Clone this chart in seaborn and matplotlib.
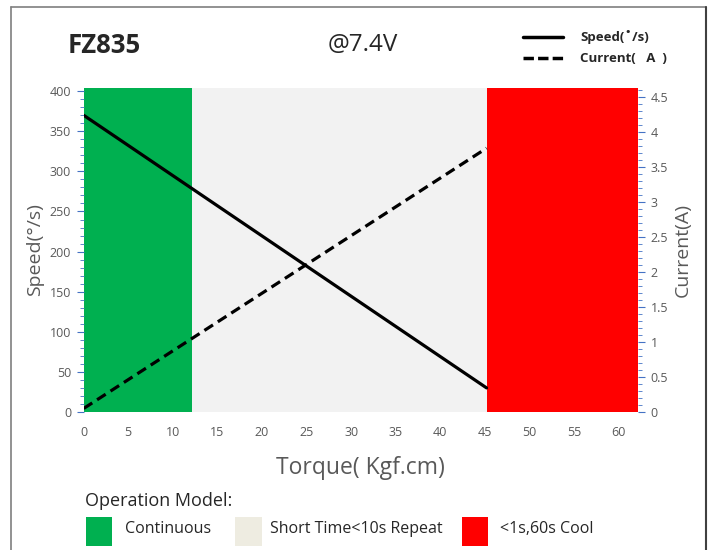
import numpy as np
import pandas as pd
import matplotlib.pyplot as plt
import seaborn as sns
from matplotlib.patches import Rectangle
from matplotlib.lines import Line2D

# Chart values
torque = [0, 45.2]
speed = [370, 30]
current = [0.05, 3.77]

zone_names = ["Continuous", "Short Time<10s Repeat", "<1s,60s Cool"]
zone_edges = [0, 12.2, 45.2, 62.2]
zone_colors = ["#00B050", "#F2F2F2", "#FF0000"]
legend_colors = ["#00B050", "#EEECE1", "#FF0000"]

x_ticks = list(range(0, 65, 5))
speed_ticks = list(range(0, 450, 50))
current_ticks = [0, 0.5, 1, 1.5, 2, 2.5, 3, 3.5, 4, 4.5]

sns.set_style("white")
plt.rcParams['font.family'] = ['Open Sans', 'DejaVu Sans']

df = pd.DataFrame({"torque": torque, "speed": speed, "current": current})

fig = plt.figure(figsize=(7.09, 5.5), dpi=100)
ax = fig.add_axes([0.118, 0.251, 0.782, 0.589])
ax2 = ax.twinx()

# Operation zones
for i in range(3):
    ax.axvspan(zone_edges[i], zone_edges[i + 1], color=zone_colors[i], lw=0, zorder=0)

sns.lineplot(data=df, x="torque", y="speed", ax=ax, color="black", lw=2.3, zorder=3)
sns.lineplot(data=df, x="torque", y="current", ax=ax2, color="black", lw=2.3,
             dashes=False, linestyle=(0, (3.2, 1.8)), zorder=3)

ax.set_xlim(0, 62.2)
ax.set_ylim(0, 404)
ax2.set_ylim(0, 4.63)
ax.set_xticks(x_ticks)
ax.set_yticks(speed_ticks)
ax2.set_yticks(current_ticks)
ax2.set_yticklabels([f"{v:g}" for v in current_ticks])
ax.set_yticks(np.arange(0, 401, 10), minor=True)
ax2.set_yticks(np.arange(0, 4.61, 0.1), minor=True)

for a in (ax, ax2):
    for s in a.spines.values():
        s.set_visible(False)
    a.tick_params(labelsize=9, labelcolor="#595959")

ax.tick_params(axis="x", length=0, pad=10)
ax.tick_params(axis="y", which="major", length=5, color="#4472C4", width=0.8, pad=4)
ax.tick_params(axis="y", which="minor", length=3, color="#4472C4", width=0.6)
ax2.tick_params(axis="y", which="major", length=5, color="#4472C4", width=0.8, pad=4)
ax2.tick_params(axis="y", which="minor", length=3, color="#4472C4", width=0.6)

ax.set_xlabel("Torque( Kgf.cm)", fontsize=16.5, color="#595959", labelpad=12)
ax.set_ylabel("Speed(°/s)", fontsize=14, color="#595959", labelpad=4)
ax2.set_ylabel("Current(A)", fontsize=14, color="#595959", labelpad=4)

# Header texts
fig.text(0.095, 0.918, "FZ835", fontsize=18.5, fontweight="bold", va="center", ha="left")
fig.text(0.512, 0.918, "@7.4V", fontsize=17.5, va="center", ha="center")

# Line key top right
fig.add_artist(Line2D([0.737, 0.794], [0.933, 0.933], color="black", lw=2.5))
fig.add_artist(Line2D([0.737, 0.794], [0.894, 0.894], color="black", lw=2.5,
                      linestyle=(0, (3, 1.2))))
fig.text(0.818, 0.933, "Speed(˚/s)", fontsize=9.5, fontweight="bold", va="center")
fig.text(0.818, 0.894, "Current(   A  )", fontsize=9.5, fontweight="bold", va="center")

# Operation model key
fig.text(0.120, 0.090, "Operation Model:", fontsize=13, va="center")
sq_x = [0.121, 0.332, 0.651]
txt_x = [0.176, 0.381, 0.705]
for i in range(3):
    fig.add_artist(Rectangle((sq_x[i], 0.008), 0.037, 0.052, transform=fig.transFigure,
                             color=legend_colors[i], lw=0))
    fig.text(txt_x[i], 0.039, zone_names[i], fontsize=11.5, va="center")

# Outer frame
fig.add_artist(Line2D([0.0155, 0.0155], [0, 0.987], color="#7F7F7F", lw=1.2))
fig.add_artist(Line2D([0.0155, 0.996], [0.987, 0.987], color="#7F7F7F", lw=1.2))
fig.add_artist(Line2D([0.996, 0.996], [0, 0.987], color="#404040", lw=1.5))

fig.savefig("out.png", dpi=100)
